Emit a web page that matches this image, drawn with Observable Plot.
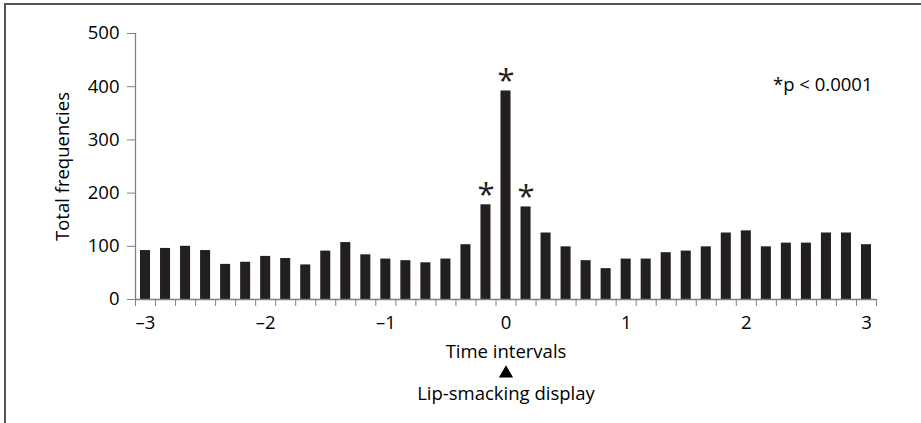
<!DOCTYPE html>
<html>
<head>
<meta charset="utf-8">
<script src="https://cdn.jsdelivr.net/npm/d3@7"></script>
<script src="https://cdn.jsdelivr.net/npm/@observablehq/plot@0.6"></script>
<style>
  html, body { margin: 0; padding: 0; background: #fff; }
  #wrap { position: relative; width: 921px; height: 423px; overflow: hidden; }
  #border { position: absolute; left: 4px; top: 3px; right: -10px; bottom: -10px;
            border-top: 2px solid #555; border-left: 2px solid #555; }
  #chart { position: absolute; left: 0; top: 0; }
</style>
</head>
<body>
<div id="wrap"><div id="border"></div><div id="chart"></div></div>
<script>
// Time interval bin centres (1/6 steps from -3 to 3)
const times = [-3, -2.8333, -2.6667, -2.5, -2.3333, -2.1667,
               -2, -1.8333, -1.6667, -1.5, -1.3333, -1.1667,
               -1, -0.8333, -0.6667, -0.5, -0.3333, -0.1667,
               0, 0.1667, 0.3333, 0.5, 0.6667, 0.8333,
               1, 1.1667, 1.3333, 1.5, 1.6667, 1.8333,
               2, 2.1667, 2.3333, 2.5, 2.6667, 2.8333, 3];
// Total frequencies per interval
const frequencies = [92, 96, 100, 92, 66, 70, 81, 77, 65, 91, 107, 84,
                     76, 73, 69, 76, 103, 178, 392, 174, 125, 99, 73, 58,
                     76, 76, 88, 91, 99, 125, 129, 99, 106, 106, 125, 125, 103];
// Significant intervals
const significant = [-0.1667, 0, 0.1667];
const xTickLabels = [-3, -2, -1, 0, 1, 2, 3];
const yTicks = [0, 100, 200, 300, 400, 500];

const step = 1 / 6;
const data = times.map((t, i) => ({t, f: frequencies[i]}));
const edges = times.map(t => t - step / 2).concat([times[times.length - 1] + step / 2]);
const xmin = times[0] - step / 2, xmax = times[times.length - 1] + step / 2;
const sig = data.filter(d => significant.includes(d.t));
const axisColor = "#808080";
const ink = "#231f20";

const plot = Plot.plot({
  width: 921,
  height: 423,
  marginTop: 33,
  marginBottom: 124,
  marginLeft: 135,
  marginRight: 45,
  style: {fontFamily: "'Open Sans', sans-serif", fontSize: "18.5px", color: "#000", background: "transparent"},
  x: {domain: [xmin, xmax]},
  y: {domain: [0, 500]},
  marks: [
    Plot.rectY(data, {x1: d => d.t - step / 2, x2: d => d.t + step / 2, y: "f", fill: ink, insetLeft: 5, insetRight: 5}),
    Plot.ruleY([0], {stroke: axisColor, strokeWidth: 1.3}),
    Plot.ruleX([xmin], {y1: 0, y2: 500, stroke: axisColor, strokeWidth: 1.3}),
    Plot.axisY({ticks: yTicks, tickSize: 8, tickPadding: 8, stroke: axisColor, label: null, fill: "#000", fontSize: 18.5}),
    Plot.axisX({ticks: edges, tickSize: 7, tickFormat: () => "", stroke: axisColor, label: null}),
    Plot.axisX({ticks: xTickLabels, tickSize: 0, tickPadding: 16, label: null, fill: "#000", fontSize: 18.5,
                tickFormat: d => d < 0 ? "\u2013" + Math.abs(d) : String(d)}),
    Plot.text(sig, {x: "t", y: "f", text: () => "*", fontSize: 31, lineAnchor: "bottom", dy: 0, fill: ink}),
    Plot.text(["*p < 0.0001"], {frameAnchor: "top-right", textAnchor: "end", lineAnchor: "middle", dx: -4, dy: 52, fill: "#000"}),
    Plot.text(["Total frequencies"], {frameAnchor: "left", textAnchor: "middle", lineAnchor: "middle", rotate: -90, dx: -72, fill: "#000"}),
    Plot.text(["Time intervals"], {x: 0, frameAnchor: "bottom", lineAnchor: "middle", dy: 53, fill: "#000"}),
    Plot.dot([0], {x: d => d, frameAnchor: "bottom", dy: 74, symbol: "triangle", r: 5.3, fill: "#000", stroke: null}),
    Plot.text(["Lip-smacking display"], {x: 0, frameAnchor: "bottom", lineAnchor: "middle", dy: 95, fill: "#000"})
  ]
});
document.getElementById("chart").appendChild(plot);
</script>
</body>
</html>
